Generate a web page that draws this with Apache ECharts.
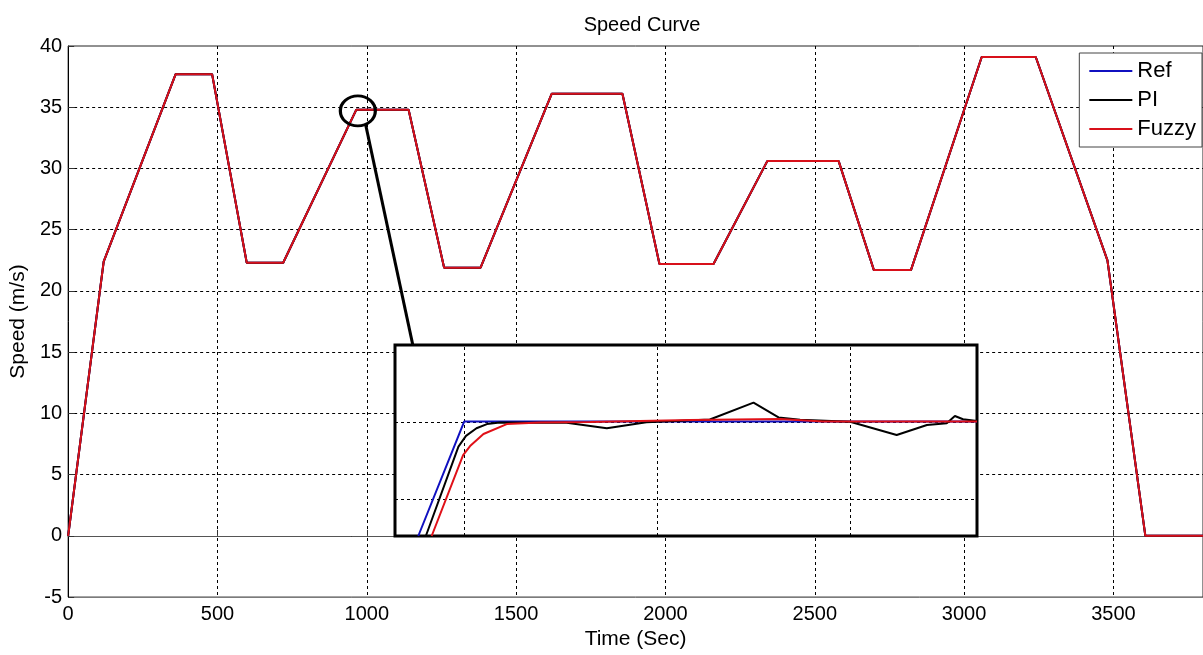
<!DOCTYPE html>
<html>
<head>
<meta charset="utf-8">
<script src="https://cdn.jsdelivr.net/npm/echarts@6/dist/echarts.min.js"></script>
<style>html,body{margin:0;padding:0;background:#fff;}#c{width:1203px;height:655px;}</style>
</head>
<body>
<div id="c"></div>
<script>
// ---- Main chart data (Time in s, Speed in m/s) ----
var mainTime = [0, 119, 360, 482, 598, 720, 965, 1140, 1259, 1381, 1619, 1856, 1980, 2161, 2341, 2580, 2698, 2822, 3059, 3240, 3480, 3607, 3800];
var refSpeed = [0, 22.4, 37.7, 37.7, 22.3, 22.3, 34.8, 34.8, 21.9, 21.9, 36.1, 36.1, 22.2, 22.2, 30.6, 30.6, 21.7, 21.7, 39.1, 39.1, 22.5, 0, 0];
var piSpeed = refSpeed.slice();     // visually identical at full scale
var fuzzySpeed = refSpeed.slice();  // visually identical at full scale

var xTicks = [0, 500, 1000, 1500, 2000, 2500, 3000, 3500];
var yTicks = [-5, 0, 5, 10, 15, 20, 25, 30, 35, 40];

// ---- Zoom annotation (main axes units) ----
var zoomCircle = [970, 34.7];
var connectorT = [996, 1154];
var connectorV = [33.6, 15.6];

// ---- Inset (magnified view, relative units 0..100) ----
var insetRefX = [4.0, 11.9, 100];
var insetRefY = [0, 60, 60];
var insetPiX = [5.3, 10.9, 12.2, 14.0, 15.8, 18.0, 29.5, 36.4, 43.2, 54.1, 61.6, 65.9, 69.6, 78.2, 86.2, 91.4, 94.8, 96.2, 97.6, 100];
var insetPiY = [0, 46.8, 52.4, 56.4, 58.6, 59.4, 59.3, 56.4, 59.5, 61.0, 69.8, 62.1, 60.9, 59.8, 52.9, 58.1, 59.0, 62.8, 61.1, 60.2];
var insetFuzzyX = [6.3, 11.7, 12.9, 15.2, 19.2, 24.9, 33.5, 50.7, 66.2, 73.5, 100];
var insetFuzzyY = [0, 42.4, 47.1, 53.4, 58.6, 59.4, 59.7, 60.7, 61.3, 59.9, 59.9];
var insetGridX = [11.9, 45.0, 78.2];
var insetGridY = [19.4, 59.7];

function zip(a, b) { return a.map(function (v, i) { return [v, b[i]]; }); }

var FONT = 'Liberation Sans, Arial, sans-serif';
var chart = echarts.init(document.getElementById('c'), null, { renderer: 'canvas' });

var gridLine = { show: true, showMinLine: false, showMaxLine: false, lineStyle: { color: '#000', type: [3, 3], width: 1 } };

var option = {
  animation: false,
  backgroundColor: '#fff',
  title: {
    text: 'Speed Curve', left: 637, textAlign: 'center', top: 10,
    textStyle: { fontFamily: FONT, fontSize: 20, fontWeight: 'normal', color: '#000' }
  },
  legend: {
    data: ['Ref', 'PI', 'Fuzzy'],
    orient: 'vertical', right: 1, top: 53,
    itemWidth: 43, itemHeight: 20, itemGap: 7,
    padding: [7, 6, 7, 9],
    itemStyle: { opacity: 0 },
    lineStyle: { width: 2 },
    backgroundColor: '#fff', borderColor: '#444', borderWidth: 1, borderRadius: 0,
    textStyle: { fontFamily: FONT, fontSize: 22, color: '#000' }
  },
  grid: [
    { left: 67, top: 46, right: -5, bottom: 57, show: true, borderColor: '#222', borderWidth: 1, backgroundColor: '#fff' },
    { left: 395, top: 345, width: 582, height: 191, show: true, z: 3, borderColor: '#000', borderWidth: 3, backgroundColor: '#fff' }
  ],
  xAxis: [
    {
      type: 'value', gridIndex: 0, min: 0, max: 3800, interval: 500,
      name: 'Time (Sec)', nameLocation: 'middle', nameGap: 27,
      nameTextStyle: { fontFamily: FONT, fontSize: 21, color: '#000' },
      axisLine: { show: true, lineStyle: { color: '#555', width: 1 } },
      axisTick: { show: true, inside: true, length: 6, lineStyle: { color: '#333' } },
      axisLabel: { show: true, showMaxLabel: false, margin: 7, fontFamily: FONT, fontSize: 20, color: '#000',
        formatter: function (v) { return String(v); } },
      splitLine: gridLine
    },
    {
      type: 'value', gridIndex: 1, min: 0, max: 100, z: 4,
      axisLine: { show: false }, axisTick: { show: false }, axisLabel: { show: false }, splitLine: { show: false }
    }
  ],
  yAxis: [
    {
      type: 'value', gridIndex: 0, min: -5, max: 40, interval: 5,
      name: 'Speed (m/s)', nameLocation: 'middle', nameGap: 38,
      nameTextStyle: { fontFamily: FONT, fontSize: 21, color: '#000' },
      axisLine: { show: true, lineStyle: { color: '#000', width: 1 } },
      axisTick: { show: true, inside: true, length: 6, lineStyle: { color: '#333' } },
      axisLabel: { show: true, margin: 6, fontFamily: FONT, fontSize: 20, color: '#000',
        formatter: function (v) { return String(v); } },
      splitLine: gridLine
    },
    {
      type: 'value', gridIndex: 1, min: 0, max: 100, z: 4,
      axisLine: { show: false }, axisTick: { show: false }, axisLabel: { show: false }, splitLine: { show: false }
    }
  ],
  series: [
    { name: 'Ref', type: 'line', xAxisIndex: 0, yAxisIndex: 0, symbol: 'none', z: 2,
      lineStyle: { color: '#1010c0', width: 2 }, itemStyle: { color: '#1010c0' }, data: zip(mainTime, refSpeed) },
    { name: 'PI', type: 'line', xAxisIndex: 0, yAxisIndex: 0, symbol: 'none', z: 2,
      lineStyle: { color: '#000', width: 2 }, itemStyle: { color: '#000' }, data: zip(mainTime, piSpeed) },
    { name: 'Fuzzy', type: 'line', xAxisIndex: 0, yAxisIndex: 0, symbol: 'none', z: 2,
      lineStyle: { color: '#d8101a', width: 2 }, itemStyle: { color: '#d8101a' }, data: zip(mainTime, fuzzySpeed) },

    { name: 'zoomMark', type: 'scatter', xAxisIndex: 0, yAxisIndex: 0, z: 6, silent: true,
      symbol: 'circle', symbolSize: [35, 30],
      itemStyle: { color: 'rgba(0,0,0,0)', borderColor: '#000', borderWidth: 3, opacity: 1 },
      data: [zoomCircle] },
    { name: 'connector', type: 'line', xAxisIndex: 0, yAxisIndex: 0, z: 6, silent: true, symbol: 'none',
      lineStyle: { color: '#000', width: 3 }, data: zip(connectorT, connectorV) },

    { name: 'Ref', type: 'line', xAxisIndex: 1, yAxisIndex: 1, symbol: 'none', z: 5, silent: true,
      lineStyle: { color: '#1010c0', width: 2 }, data: zip(insetRefX, insetRefY),
      markLine: {
        silent: true, symbol: 'none', label: { show: false }, z: 4,
        lineStyle: { color: '#000', type: [3, 3], width: 1 },
        data: insetGridX.map(function (v) { return { xAxis: v }; }).concat(insetGridY.map(function (v) { return { yAxis: v }; }))
      } },
    { name: 'PI', type: 'line', xAxisIndex: 1, yAxisIndex: 1, symbol: 'none', z: 5, silent: true,
      lineStyle: { color: '#000', width: 2 }, data: zip(insetPiX, insetPiY) },
    { name: 'Fuzzy', type: 'line', xAxisIndex: 1, yAxisIndex: 1, symbol: 'none', z: 5, silent: true,
      lineStyle: { color: '#e01018', width: 2 }, data: zip(insetFuzzyX, insetFuzzyY) }
  ]
};
chart.setOption(option);
</script>
</body>
</html>
